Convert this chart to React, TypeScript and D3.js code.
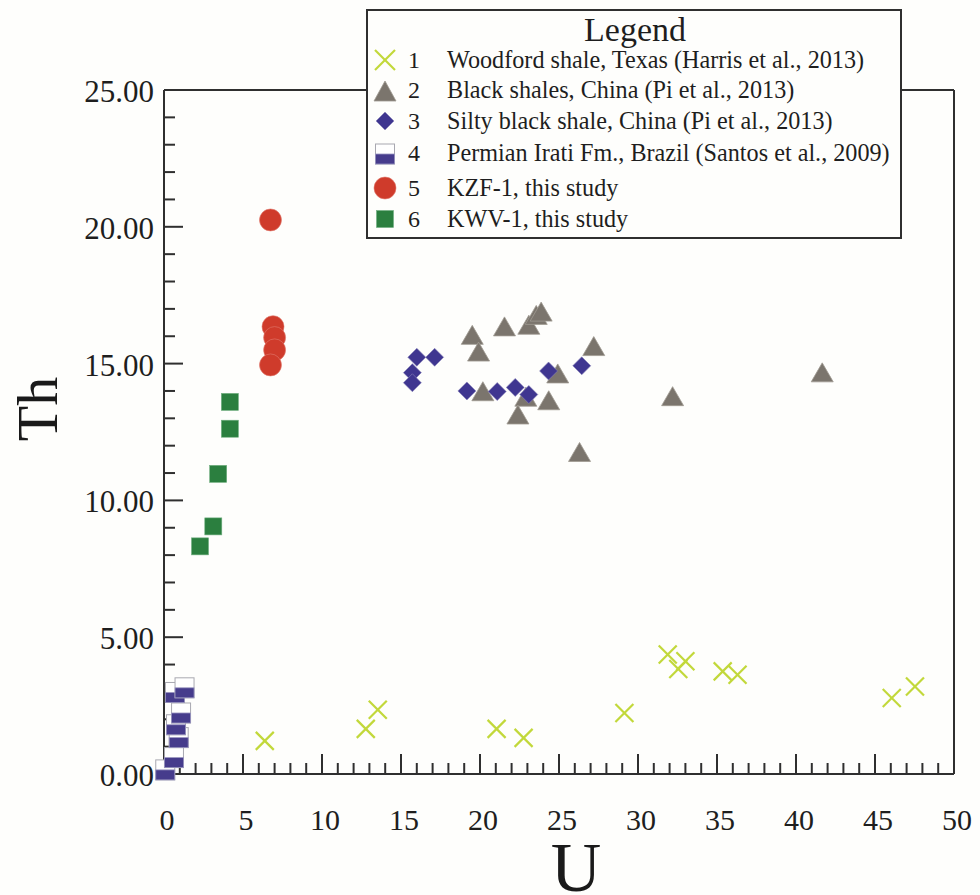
import React from "react";
import * as d3 from "d3";

const xTicks = [0, 5, 10, 15, 20, 25, 30, 35, 40, 45, 50];
const yTicks = [0, 5, 10, 15, 20, 25];

const woodford: [number, number][] = [
  [6.38, 1.21], [12.77, 1.65], [13.53, 2.35], [21.05, 1.65], [22.76, 1.32],
  [29.14, 2.23], [31.88, 4.37], [32.55, 3.84], [33.0, 4.12], [35.36, 3.75],
  [36.3, 3.63], [46.06, 2.78], [47.53, 3.2],
];
const blackShales: [number, number][] = [
  [19.51, 16.05], [19.91, 15.44], [21.55, 16.36], [23.09, 16.42], [23.56, 16.78],
  [23.87, 16.9], [27.2, 15.64], [24.92, 14.64], [20.18, 13.99], [22.9, 13.79],
  [24.35, 13.66], [22.4, 13.14], [32.19, 13.81], [26.3, 11.77], [41.66, 14.68],
];
const siltyShale: [number, number][] = [
  [16.0, 15.23], [17.13, 15.23], [15.72, 14.67], [15.72, 14.3], [19.17, 14.0],
  [21.09, 13.98], [22.23, 14.13], [23.09, 13.87], [24.34, 14.73], [26.44, 14.92],
];
const irati: [number, number][] = [
  [0.08, 0.15], [0.63, 0.6], [0.93, 1.33], [0.76, 1.8], [1.08, 2.23], [0.69, 2.98], [1.3, 3.15],
];
const kzf: [number, number][] = [
  [6.74, 20.25], [6.9, 16.35], [7.0, 15.95], [7.0, 15.5], [6.74, 14.95],
];
const kwv: [number, number][] = [
  [4.17, 13.6], [4.17, 12.62], [3.43, 10.97], [3.12, 9.05], [2.28, 8.32],
];

const legendNums = ["1", "2", "3", "4", "5", "6"];
const legendLabels = [
  "Woodford shale, Texas (Harris et al., 2013)",
  "Black shales, China (Pi et al., 2013)",
  "Silty black shale, China (Pi et al., 2013)",
  "Permian Irati Fm., Brazil (Santos et al., 2009)",
  "KZF-1, this study",
  "KWV-1, this study",
];

const C_X = "#c2d83a";
const C_TRI = "#7b756d";
const C_DIA = "#3f3690";
const C_IRATI = "#463c8c";
const C_RED = "#cf3b2b";
const C_GREEN = "#2b7f3f";
const AX = "#2f2f2f";
const FONT = "'Liberation Serif', 'Times New Roman', serif";

const x = d3.scaleLinear().domain([0, 50]).range([164, 954]);
const y = d3.scaleLinear().domain([0, 25]).range([774, 90]);

function XMark({ cx, cy, s = 9 }: { cx: number; cy: number; s?: number }) {
  return (
    <g stroke={C_X} strokeWidth={2.2}>
      <line x1={cx - s} y1={cy - s} x2={cx + s} y2={cy + s} />
      <line x1={cx - s} y1={cy + s} x2={cx + s} y2={cy - s} />
    </g>
  );
}
function Tri({ cx, cy, w = 22, h = 19 }: { cx: number; cy: number; w?: number; h?: number }) {
  return (
    <path
      d={`M${cx},${cy - h / 2}L${cx + w / 2},${cy + h / 2}L${cx - w / 2},${cy + h / 2}Z`}
      fill={C_TRI}
      stroke="#a09a92"
      strokeWidth={0.8}
    />
  );
}
function Dia({ cx, cy, r = 9 }: { cx: number; cy: number; r?: number }) {
  return (
    <path
      d={`M${cx},${cy - r}L${cx + r},${cy}L${cx},${cy + r}L${cx - r},${cy}Z`}
      fill={C_DIA}
      stroke="#8a85b8"
      strokeWidth={0.6}
    />
  );
}
function Half({ cx, cy, w = 19, h = 20 }: { cx: number; cy: number; w?: number; h?: number }) {
  return (
    <g>
      <rect x={cx - w / 2} y={cy - h / 2} width={w} height={h} fill="#ffffff" stroke="#a8a8b0" strokeWidth={1} />
      <rect x={cx - w / 2} y={cy} width={w} height={h / 2} fill={C_IRATI} stroke="#9a96c0" strokeWidth={0.8} />
    </g>
  );
}
function Circ({ cx, cy, r = 11 }: { cx: number; cy: number; r?: number }) {
  return <circle cx={cx} cy={cy} r={r} fill={C_RED} stroke="#e07a6e" strokeWidth={0.6} />;
}
function Sq({ cx, cy, s = 17 }: { cx: number; cy: number; s?: number }) {
  return <rect x={cx - s / 2} y={cy - s / 2} width={s} height={s} fill={C_GREEN} stroke="#6fae7f" strokeWidth={0.6} />;
}

export default function App() {
  const xMinor = d3.range(0, 51, 1);
  const yMinor = d3.range(0, 26, 1);
  const x0 = x(0), x1 = x(50), y0 = y(0), y1 = y(25);

  const legendYs = [60, 91, 121, 154, 188, 219];
  const baseYs = [68, 98, 129, 161, 196, 227];
  const symX = 385;

  return (
    <svg width={980} height={895} style={{ position: "absolute", left: 0, top: 0 }} fontFamily={FONT}>
      <rect x={0} y={0} width={980} height={895} fill="#fefefc" />

      {/* frame */}
      <g stroke={AX} strokeWidth={2} fill="none">
        <line x1={x0} y1={y0} x2={x1} y2={y0} />
        <line x1={x0} y1={y0} x2={x0} y2={y1} />
        <line x1={x0} y1={y1} x2={x1} y2={y1} />
        <line x1={x1} y1={y1} x2={x1} y2={y0} />
      </g>

      {/* ticks */}
      <g stroke={AX} strokeWidth={2}>
        {xMinor.map((v) => (
          <line key={v} x1={x(v)} x2={x(v)} y1={y0} y2={y0 - (v % 5 === 0 ? 20 : 11)} />
        ))}
        {yMinor.map((v) => (
          <line key={v} x1={x0} x2={x0 + (v % 5 === 0 ? 19 : 11)} y1={y(v)} y2={y(v)} />
        ))}
      </g>

      {xTicks.map((v) => (
        <text key={v} x={x(v) + 3} y={y0 + 56} fontSize={30} textAnchor="middle" fill="#1e1e1e">
          {v}
        </text>
      ))}
      {yTicks.map((v) => (
        <text key={v} x={154} y={y(v) + 12} fontSize={31} textAnchor="end" fill="#1e1e1e">
          {v.toFixed(2)}
        </text>
      ))}

      <text x={576} y={891} fontSize={70} textAnchor="middle" fill="#1a1a1a">U</text>
      <text transform="translate(57,409) rotate(-90)" fontSize={58} textAnchor="middle" fill="#1a1a1a">Th</text>

      {/* data */}
      {irati.map(([u, t], i) => <Half key={i} cx={x(u)} cy={y(t)} />)}
      {woodford.map(([u, t], i) => <XMark key={i} cx={x(u)} cy={y(t)} />)}
      {blackShales.map(([u, t], i) => <Tri key={i} cx={x(u)} cy={y(t)} />)}
      {siltyShale.map(([u, t], i) => <Dia key={i} cx={x(u)} cy={y(t)} />)}
      {kwv.map(([u, t], i) => <Sq key={i} cx={x(u)} cy={y(t)} />)}
      {kzf.map(([u, t], i) => <Circ key={i} cx={x(u)} cy={y(t)} />)}

      {/* legend */}
      <rect x={367} y={10} width={534} height={228} fill="#fefefc" stroke={AX} strokeWidth={2} />
      <text x={635} y={41} fontSize={34} textAnchor="middle" fill="#1e1e1e">Legend</text>
      <XMark cx={symX} cy={legendYs[0]} s={10} />
      <Tri cx={symX} cy={legendYs[1]} w={22} h={20} />
      <Dia cx={symX} cy={legendYs[2]} r={9} />
      <Half cx={symX} cy={legendYs[3]} w={19} h={20} />
      <Circ cx={symX} cy={legendYs[4]} r={11} />
      <Sq cx={symX} cy={legendYs[5]} s={17} />
      {legendNums.map((n, i) => (
        <text key={n} x={414} y={baseYs[i]} fontSize={24} textAnchor="middle" fill="#1e1e1e">{n}</text>
      ))}
      {legendLabels.map((l, i) => (
        <text key={l} x={447} y={baseYs[i]} fontSize={24.2} fill="#1e1e1e">{l}</text>
      ))}
    </svg>
  );
}
